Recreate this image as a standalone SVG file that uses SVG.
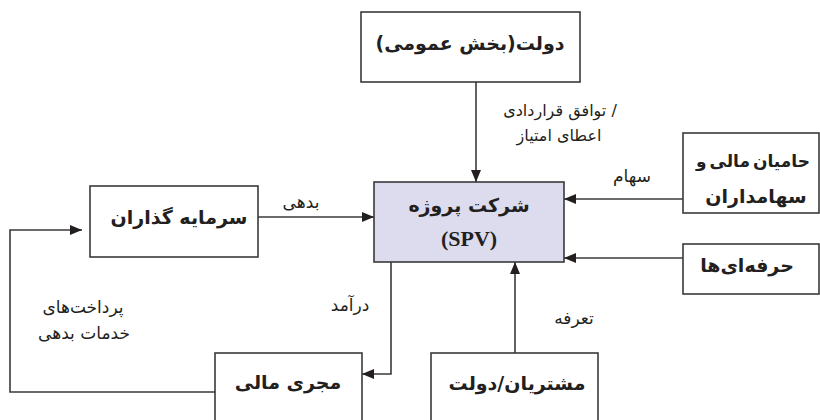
<svg xmlns="http://www.w3.org/2000/svg" width="820" height="420" viewBox="0 0 820 420">
<style>
.box{fill:#fff;stroke:#3a3a3a;stroke-width:1.6}
.spv{fill:#dcdcee;stroke:#3a3a3a;stroke-width:1.6}
.t{font-family:"DejaVu Sans","Noto Sans",sans-serif;font-weight:bold;font-size:19px;fill:#231f20;text-anchor:middle}
.s{font-family:"Liberation Serif",serif;font-weight:bold;font-size:22px;fill:#231f20;text-anchor:middle}
.l{font-family:"DejaVu Sans","Noto Sans",sans-serif;font-size:17px;fill:#231f20;text-anchor:middle}
.c{fill:none;stroke:#3a3a3a;stroke-width:1.6}
</style>
<defs>
<marker id="ah" viewBox="0 0 12 10" refX="12" refY="5" markerWidth="13" markerHeight="10" markerUnits="userSpaceOnUse" orient="auto">
<path d="M0,0 L12,5 L0,10 z" fill="#231f20"/>
</marker>
</defs>
<g id="connectors">
<line class="c" x1="476" y1="82" x2="476" y2="182" marker-end="url(#ah)"/>
<line class="c" x1="258" y1="217" x2="374" y2="217" marker-end="url(#ah)"/>
<line class="c" x1="683" y1="199" x2="564" y2="199" marker-end="url(#ah)"/>
<line class="c" x1="683" y1="258" x2="564" y2="258" marker-end="url(#ah)"/>
<line class="c" x1="515" y1="353" x2="515" y2="262" marker-end="url(#ah)"/>
<polyline class="c" points="391,262 391,374 362,374" marker-end="url(#ah)"/>
<polyline class="c" points="215,392 10,392 10,230 82,230" marker-end="url(#ah)"/>
<text class="l" x="560" y="116" style="font-size:16px">توافق قراردادی /</text>
<text class="l" x="559" y="141" style="font-size:16px">اعطای امتیاز</text>
<text class="l" x="301" y="208">بدهی</text>
<text class="l" x="632" y="182">سهام</text>
<text class="l" x="350" y="311">درآمد</text>
<text class="l" x="574" y="324">تعرفه</text>
<text class="l" x="83" y="313">پرداخت‌های</text>
<text class="l" x="84" y="339">خدمات بدهی</text>
</g>
<g id="node-govt">
<rect class="box" x="361" y="12" width="219" height="70"/>
<text class="t" x="470" y="50">دولت(بخش عمومی)</text>
</g>
<g id="node-spv">
<rect class="spv" x="374" y="182" width="190" height="80"/>
<text class="t" x="469" y="212">شرکت پروژه</text>
<text class="s" x="469" y="246">(SPV)</text>
</g>
<g id="node-sponsors">
<rect class="box" x="683" y="133" width="136" height="80"/>
<text class="t" x="753" y="167" style="font-size:17px;word-spacing:-3px">حامیان مالی و</text>
<text class="t" x="756" y="203">سهامداران</text>
</g>
<g id="node-contractors">
<rect class="box" x="683" y="244" width="136" height="50"/>
<text class="t" x="747" y="272">حرفه‌ای‌ها</text>
</g>
<g id="node-investors">
<rect class="box" x="90" y="186" width="168" height="71"/>
<text class="t" x="179" y="224">سرمایه گذاران</text>
</g>
<g id="node-financial">
<rect class="box" x="215" y="353" width="147" height="80"/>
<text class="t" x="288" y="389">مجری مالی</text>
</g>
<g id="node-customers">
<rect class="box" x="431" y="353" width="167" height="80"/>
<text class="t" x="517" y="390">مشتریان/دولت</text>
</g>
</svg>
